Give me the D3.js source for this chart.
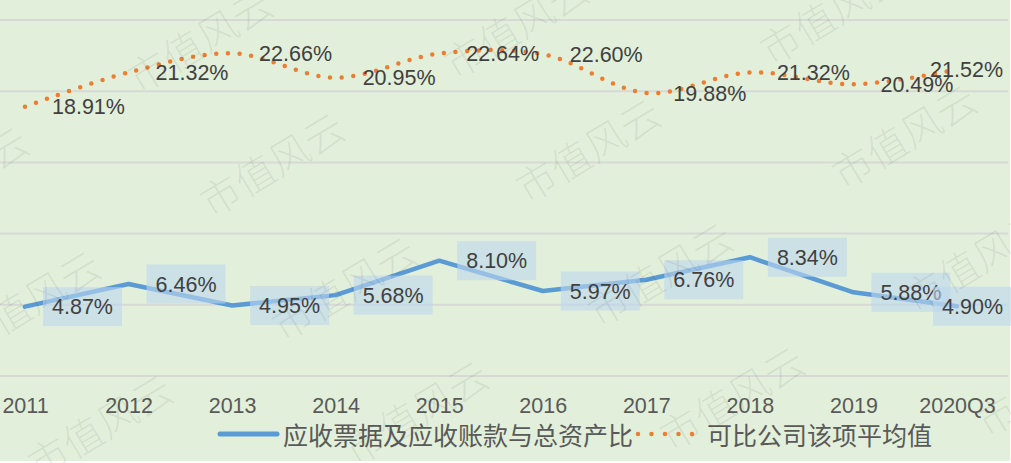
<!DOCTYPE html>
<html><head><meta charset="utf-8">
<script src="https://cdn.jsdelivr.net/npm/d3@7"></script>
<style>html,body{margin:0;padding:0;background:#fff;overflow:hidden}</style>
</head><body><svg id="c" width="1011" height="463"></svg>
<script>
const categories = ["2011","2012","2013","2014","2015","2016","2017","2018","2019","2020Q3"];
const receivableRatio = [4.87,6.46,4.95,5.68,8.10,5.97,6.76,8.34,5.88,4.90];
const peerAverage = [18.91,21.32,22.66,20.95,22.64,22.60,19.88,21.32,20.49,21.52];
const yTicks = [0,5,10,15,20,25];
const seriesNames = ["应收票据及应收账款与总资产比","可比公司该项平均值"];
const watermarkText = "市值风云";

const W = 1011, H = 463;
const svg = d3.select("#c");
const numFont = "'Liberation Sans', Arial, sans-serif";
const cjkFont = "'Noto Sans CJK SC', 'Noto Sans', sans-serif";

svg.append("rect").attr("x",0).attr("y",0).attr("width",1010).attr("height",461).attr("fill","#e2efda");

const x = d3.scalePoint().domain(categories).range([25, 957]);
const y = d3.scaleLinear().domain([0, 25]).range([376, 20]);

// gridlines
svg.append("g").selectAll("line").data(yTicks).join("line")
  .attr("x1",0).attr("x2",1008)
  .attr("y1",d=>y(d)).attr("y2",d=>y(d))
  .attr("stroke","#d6d9d4").attr("stroke-width",2);

// x axis labels
const xAxis = d3.axisBottom(x).tickSize(0).tickPadding(0);
const gx = svg.append("g").attr("transform","translate(0,398)").call(xAxis);
gx.select(".domain").remove();
gx.selectAll("text").attr("font-family",numFont).attr("font-size",21.5)
  .attr("fill","#595959").attr("dy","0.71em").attr("y",0);

// lines
const blueLine = d3.line().x((d,i)=>x(categories[i])).y(d=>y(d)).curve(d3.curveLinear);
const orangeLine = d3.line().x((d,i)=>x(categories[i])).y(d=>y(d)).curve(d3.curveCatmullRom.alpha(0.5));

svg.append("path").attr("d",blueLine(receivableRatio)).attr("fill","none")
  .attr("stroke","#5b9bd5").attr("stroke-width",4.5).attr("stroke-linejoin","round").attr("stroke-linecap","round");
svg.append("path").attr("d",orangeLine(peerAverage)).attr("fill","none")
  .attr("stroke","#ed7d31").attr("stroke-width",4.5).attr("stroke-dasharray","0 11.7").attr("stroke-linecap","round");

// labels
function addLabels(values, boxed){
  const g = svg.append("g");
  values.forEach((v,i)=>{
    const px = x(categories[i]), py = y(v);
    const lg = g.append("g");
    const rect = boxed ? lg.append("rect") : null;
    const t = lg.append("text").text(v.toFixed(2)+"%")
      .attr("font-family",numFont).attr("font-size",21.5).attr("fill","#404040")
      .attr("dy","0.36em").attr("y",py);
    const w = t.node().getComputedTextLength();
    let tx = px + 27;
    if (tx + w > 1003) tx = 1003 - w;
    t.attr("x",tx);
    if (boxed) {
      rect.attr("x",tx-9).attr("y",py-19.5).attr("width",w+18).attr("height",39)
        .attr("fill","rgba(189,215,238,0.6)");
    }
  });
}
addLabels(receivableRatio, true);
addLabels(peerAverage, false);

// legend
const lg = svg.append("g");
lg.append("line").attr("x1",220).attr("x2",277).attr("y1",434).attr("y2",434)
  .attr("stroke","#5b9bd5").attr("stroke-width",5).attr("stroke-linecap","round");
lg.append("text").attr("x",283).attr("y",436).attr("dy","0.36em").text(seriesNames[0])
  .attr("font-family",cjkFont).attr("font-size",25).attr("fill","#595959");
lg.append("line").attr("x1",638).attr("x2",694).attr("y1",434).attr("y2",434)
  .attr("stroke","#ed7d31").attr("stroke-width",4.5).attr("stroke-dasharray","0 13.5").attr("stroke-linecap","round");
lg.append("text").attr("x",707).attr("y",436).attr("dy","0.36em").text(seriesNames[1])
  .attr("font-family",cjkFont).attr("font-size",25).attr("fill","#595959");

// watermark lattice
const wm = svg.append("g").attr("pointer-events","none");
const O = [8,148], v1 = [72,124], v2 = [316,-14];
for (let i=-3;i<=4;i++) for (let j=-1;j<=4;j++){
  const cx = O[0]+i*v1[0]+j*v2[0], cy = O[1]+i*v1[1]+j*v2[1];
  if (cx < -40 || cx > 1200 || cy < -40 || cy > 560) continue;
  wm.append("text").text(watermarkText)
    .attr("transform",`translate(${cx+17},${cy-10}) rotate(-31)`)
    .attr("text-anchor","end").attr("dy","0.36em")
    .attr("font-family",cjkFont).attr("font-size",40).attr("font-weight",300)
    .attr("fill","rgba(0,0,0,0.07)");
}
</script></body></html>
